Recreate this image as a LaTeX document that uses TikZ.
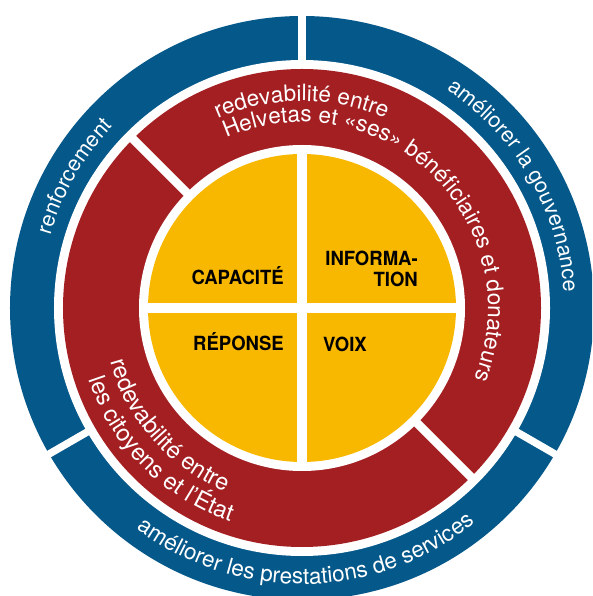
\documentclass[tikz,border=0pt]{standalone}
\usepackage{fontspec}
\setmainfont{TeX Gyre Heros}
\newfontfamily\quadfamily[FakeStretch=0.95]{TeX Gyre Heros}
\usetikzlibrary{decorations.text}
\definecolor{helvblue}{HTML}{04588A}
\definecolor{helvred}{HTML}{A41F22}
\definecolor{helvyellow}{HTML}{F9B800}
\newcommand{\ringfont}{\fontsize{21.5}{26}\selectfont}
\newcommand{\servfont}{\fontsize{22.5}{27}\selectfont}
\newcommand{\redfont}{\fontsize{22.5}{27}\selectfont}
\newcommand{\statefont}{\fontsize{23.5}{28}\selectfont}
\newcommand{\quadfont}{\quadfamily\bfseries\fontsize{19.5}{21}\selectfont}

\begin{document}
\begin{tikzpicture}[x=1pt, y=1pt,
		gap/.style={white, line width=#1},
		ringtext/.style={decorate, decoration={text along path, text align=center, text color=white, text={#1}}},
		redtext/.style={decorate, decoration={text along path, text align=left, text color=white, text={#1}}},
		quad/.style={font=\quadfont, inner sep=0pt}]
			\useasboundingbox (-302,-288) rectangle (290,308);
			\clip (-302,-288) rectangle (290,308);
			% rings
			\fill[helvblue] (0,0) circle (292);
			\fill[white] (0,0) circle (248);
			\fill[helvred] (0,0) circle (239);
			\fill[white] (0,0) circle (163);
			\fill[helvyellow] (0,0) circle (154);
			% gaps
			\foreach \a in {90,210,330}
				\draw[gap=7.4pt] (\a:244) -- (\a:300);
			\foreach \a in {135,315}
				\draw[gap=8.5pt] (\a:158) -- (\a:243);
			\draw[gap=10.5pt] (-158,0) -- (158,0);
			\draw[gap=10.5pt] (0,-158) -- (0,158);
			% outer ring
			\path[ringtext={|\ringfont|renforcement}] (210:262) arc[start angle=210, end angle=90, radius=262];
			\path[ringtext={|\ringfont|améliorer la gouvernance}] (90:262) arc[start angle=90, end angle=-30, radius=262];
			\path[ringtext={|\servfont|améliorer les prestations de services}] (211:276) arc[start angle=211, end angle=331, radius=276];
			% middle ring
			\path[redtext={|\redfont|redevabilité entre}] (114:207) arc[start angle=114, end angle=0, radius=207];
			\path[redtext={|\redfont|Helvetas et «ses» bénéficiaires et donateurs}] (114:186) arc[start angle=114, end angle=-50, radius=186];
			\path[redtext={|\statefont|redevabilité entre}] (195.5:199) arc[start angle=195.5, end angle=300, radius=199];
			\path[redtext={|\statefont|les citoyens et l’État}] (198.5:225) arc[start angle=198.5, end angle=300, radius=225];
			% quadrants
			\node[quad, anchor=base east] (capacite) at (-18,23) {CAPACITÉ};
			\node[quad, anchor=south east, align=right] (information) at (116,21) {INFORMA-\\TION};
			\node[quad, anchor=base east] (reponse) at (-18,-43) {RÉPONSE};
			\node[quad, anchor=base west] (voix) at (21,-44) {VOIX};
		\end{tikzpicture}
\end{document}
